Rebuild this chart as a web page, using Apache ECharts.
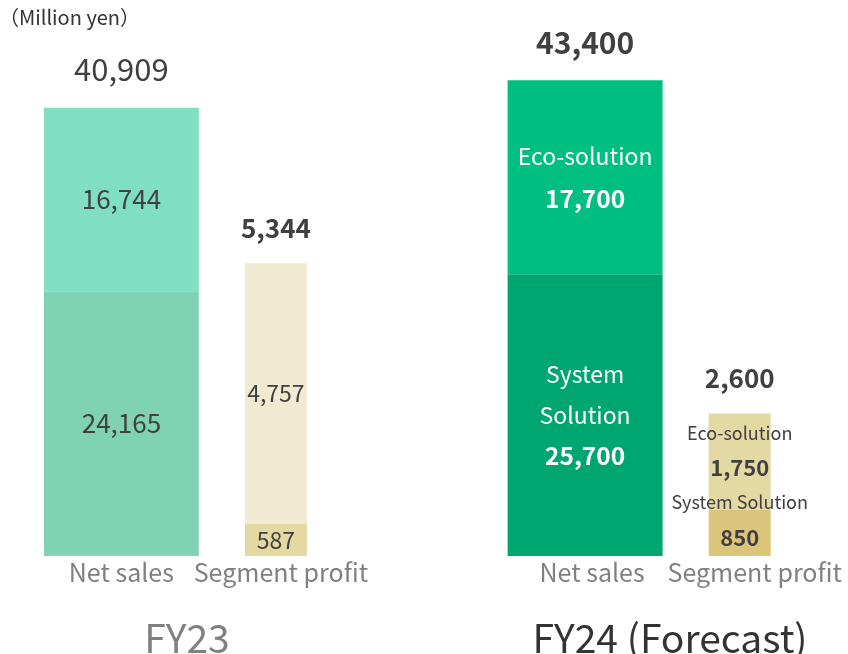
<!DOCTYPE html>
<html><head><meta charset="utf-8">
<script src="https://cdn.jsdelivr.net/npm/echarts@6/dist/echarts.min.js"></script>
<style>html,body{margin:0;padding:0;background:#fff}#c{width:848px;height:654px}</style>
</head><body><div id="c"></div>
<script>
const fiscalYears = ['FY23', 'FY24 (Forecast)'];
const barLabels = ['Net sales', 'Segment profit'];
const segmentNames = ['System Solution', 'Eco-solution'];
const netSalesSystem = [24165, 25700];
const netSalesEco = [16744, 17700];
const netSalesTotal = [40909, 43400];
const profitSystem = [587, 850];
const profitEco = [4757, 1750];
const profitTotal = [5344, 2600];
const unitLabel = '（Million yen）';

const FONT = '"Noto Sans CJK JP", "Noto Sans", sans-serif';
const DARK = '#404040';
const fmt = v => v.toLocaleString('en-US');
const slots = [barLabels[0], barLabels[1], '', barLabels[0], barLabels[1]];
const nsIdx = [0, 3], spIdx = [1, 4];
function place(arr, idxs, mk) {
  const out = slots.map(() => '-');
  arr.forEach((v, i) => { out[idxs[i]] = mk(v, i); });
  return out;
}
function plainLabel(size, bold) {
  return { show: true, position: 'inside', fontFamily: FONT, fontSize: size, color: DARK, fontWeight: bold ? 'bold' : 'normal' };
}
function colorItem(c) { return { color: c }; }

const nsSysColors = ['#80D2B5', '#00A670'];
const nsEcoColors = ['#80DFC0', '#00BF80'];
const spSysColors = ['#E4D8A3', '#DAC57A'];
const spEcoColors = ['#F0EAD2', '#E4D8A3'];

const nsSystemData = place(netSalesSystem, nsIdx, (v, i) => ({
  value: v, itemStyle: colorItem(nsSysColors[i]),
  label: i === 0 ? Object.assign(plainLabel(26, false), { formatter: fmt(v) }) : {
    show: true, position: 'inside',
    formatter: segmentNames[0].split(' ').map(w => '{n|' + w + '}').join('\n') + '\n{v|' + fmt(v) + '}',
    rich: {
      n: { fontFamily: FONT, fontSize: 23, color: '#fff', lineHeight: 41 },
      v: { fontFamily: FONT, fontSize: 24.5, fontWeight: 'bold', color: '#fff', lineHeight: 41 }
    }
  }
}));
const nsEcoData = place(netSalesEco, nsIdx, (v, i) => ({
  value: v, itemStyle: colorItem(nsEcoColors[i]),
  label: i === 0 ? Object.assign(plainLabel(26, false), { formatter: fmt(v) }) : {
    show: true, position: 'inside',
    formatter: '{n|' + segmentNames[1] + '}\n{v|' + fmt(v) + '}',
    rich: {
      n: { fontFamily: FONT, fontSize: 23, color: '#fff', lineHeight: 42 },
      v: { fontFamily: FONT, fontSize: 24.5, fontWeight: 'bold', color: '#fff', lineHeight: 42 }
    }
  }
}));
const nsTotalData = place(netSalesTotal, nsIdx, (v, i) => ({
  value: 0,
  label: { show: true, position: 'top', distance: 23, formatter: fmt(v), fontFamily: FONT,
    fontSize: i === 0 ? 31 : 30, color: DARK, fontWeight: i === 0 ? 'normal' : 'bold' }
}));

const spSystemData = place(profitSystem, spIdx, (v, i) => ({
  value: v, itemStyle: colorItem(spSysColors[i]),
  label: i === 0 ? Object.assign(plainLabel(23, false), { formatter: fmt(v) }) : {
    show: true, position: 'inside', offset: [0, -13],
    formatter: '{n|' + segmentNames[0] + '}\n{v|' + fmt(v) + '}',
    rich: {
      n: { fontFamily: FONT, fontSize: 18, color: DARK, lineHeight: 36 },
      v: { fontFamily: FONT, fontSize: 22, fontWeight: 'bold', color: DARK, lineHeight: 36 }
    }
  }
}));
const spEcoData = place(profitEco, spIdx, (v, i) => ({
  value: v, itemStyle: colorItem(spEcoColors[i]),
  label: i === 0 ? Object.assign(plainLabel(23, false), { formatter: fmt(v) }) : {
    show: true, position: 'inside', offset: [0, -11],
    formatter: '{n|' + segmentNames[1] + '}\n{v|' + fmt(v) + '}',
    rich: {
      n: { fontFamily: FONT, fontSize: 18, color: DARK, lineHeight: 35 },
      v: { fontFamily: FONT, fontSize: 22, fontWeight: 'bold', color: DARK, lineHeight: 35 }
    }
  }
}));
const spTotalData = place(profitTotal, spIdx, (v, i) => ({
  value: 0,
  label: { show: true, position: 'top', distance: 22, formatter: fmt(v), fontFamily: FONT,
    fontSize: 26, color: DARK, fontWeight: 'bold' }
}));

const labelShift = [0, 10, 0, 14, 30];
const axisRich = {};
labelShift.forEach((p, i) => {
  axisRich['s' + i] = { fontFamily: FONT, fontSize: 25, color: '#808080', padding: [0, 0, 0, p] };
});

const chart = echarts.init(document.getElementById('c'), null, { renderer: 'canvas' });
chart.setOption({
  animation: false,
  backgroundColor: '#fff',
  grid: { left: 44, right: 31, top: 8, bottom: 98 },
  xAxis: [
    { type: 'category', data: slots, axisLine: { show: false }, axisTick: { show: false },
      axisLabel: { interval: 0, margin: 4, formatter: (val, idx) => val ? '{s' + idx + '|' + val + '}' : '', rich: axisRich } },
    { type: 'category', data: slots, show: false }
  ],
  yAxis: [
    { type: 'value', min: 0, max: 50000, show: false, splitLine: { show: false } },
    { type: 'value', min: 0, max: 10000, show: false, splitLine: { show: false } }
  ],
  series: [
    { name: 'ns-system', type: 'bar', stack: 'ns', xAxisIndex: 0, yAxisIndex: 0, barWidth: 155, data: nsSystemData, emphasis: { disabled: true } },
    { name: 'ns-eco', type: 'bar', stack: 'ns', xAxisIndex: 0, yAxisIndex: 0, barWidth: 155, data: nsEcoData, emphasis: { disabled: true } },
    { name: 'ns-total', type: 'bar', stack: 'ns', xAxisIndex: 0, yAxisIndex: 0, barWidth: 155, data: nsTotalData, emphasis: { disabled: true } },
    { name: 'sp-system', type: 'bar', stack: 'sp', xAxisIndex: 1, yAxisIndex: 1, barWidth: 62, data: spSystemData, emphasis: { disabled: true } },
    { name: 'sp-eco', type: 'bar', stack: 'sp', xAxisIndex: 1, yAxisIndex: 1, barWidth: 62, data: spEcoData, emphasis: { disabled: true } },
    { name: 'sp-total', type: 'bar', stack: 'sp', xAxisIndex: 1, yAxisIndex: 1, barWidth: 62, data: spTotalData, emphasis: { disabled: true } }
  ],
  graphic: [
    { type: 'text', x: -1, y: 17, style: { text: unitLabel, font: '20px ' + FONT, fill: '#333', textVerticalAlign: 'middle' } },
    { type: 'text', x: 187, y: 638, style: { text: fiscalYears[0], font: '39px ' + FONT, fill: '#808080', textAlign: 'center', textVerticalAlign: 'middle' } },
    { type: 'text', x: 670, y: 638, style: { text: fiscalYears[1], font: '39px ' + FONT, fill: '#333', textAlign: 'center', textVerticalAlign: 'middle' } }
  ]
});
</script></body></html>
